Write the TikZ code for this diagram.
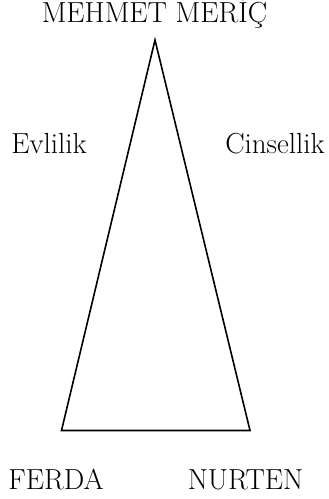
\documentclass[tikz,border=0pt]{standalone}
\usepackage{fontspec}
\begin{document}
\begin{tikzpicture}[x=1pt,y=-1pt,
  lbl/.style={inner sep=0pt,anchor=base,font=\fontsize{29}{34}\selectfont},
  edge/.style={draw=black,line width=1.6pt,line join=miter}]
\useasboundingbox (0,0) rectangle (329,499);
\coordinate (top) at (155,40);
\coordinate (bl) at (61.5,430.5);
\coordinate (br) at (250,430.5);
\draw[edge] (top) -- (bl) -- (br) -- cycle;
\node[lbl] (mm) at (154.5,22) {MEHMET MERİÇ};
\node[lbl] (ev) at (49,153) {Evlilik};
\node[lbl] (cs) at (275,153) {Cinsellik};
\node[lbl] (fe) at (56,489) {FERDA};
\node[lbl] (nu) at (245.5,489) {NURTEN};
\end{tikzpicture}
\end{document}
